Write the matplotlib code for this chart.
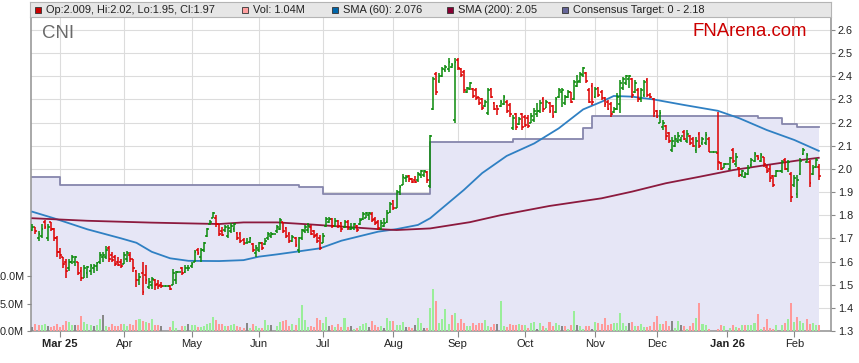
import numpy as np
import pandas as pd
import matplotlib
matplotlib.use("Agg")
import matplotlib.pyplot as plt
from matplotlib.patches import Rectangle

# trading calendar (weekdays) shown on the chart
dates = pd.bdate_range("2025-02-18", "2026-02-12")

opens = [
    1.735, 1.75, 1.70, 1.71, 1.77, 1.70, 1.77, 1.74, 1.70, 1.64,
    1.62, 1.60, 1.57, 1.60, 1.60, 1.60, 1.56, 1.53, 1.55, 1.56,
    1.57, 1.58, 1.60, 1.62, 1.62, 1.66, 1.63, 1.62, 1.60, 1.60,
    1.59, 1.61, 1.63, 1.61, 1.56, 1.52, 1.55, 1.54, 1.49, 1.50,
    1.52, 1.505, 1.50, 1.495, 1.495, 1.495, 1.50, 1.52, 1.555, 1.57,
    1.555, 1.57, 1.58, 1.60, 1.65, 1.62, 1.65, 1.71, 1.76, 1.79,
    1.79, 1.76, 1.73, 1.735, 1.71, 1.73, 1.74, 1.725, 1.72, 1.695,
    1.68, 1.685, 1.675, 1.635, 1.65, 1.68, 1.675, 1.70, 1.71, 1.72,
    1.73, 1.74, 1.77, 1.745, 1.72, 1.69, 1.70, 1.65, 1.70, 1.73,
    1.735, 1.75, 1.73, 1.715, 1.70, 1.68, 1.755, 1.77, 1.785, 1.755,
    1.775, 1.765, 1.75, 1.77, 1.74, 1.745, 1.755, 1.76, 1.785, 1.79,
    1.80, 1.805, 1.785, 1.77, 1.74, 1.755, 1.77, 1.815, 1.86, 1.83,
    1.90, 1.93, 1.96, 1.97, 1.955, 1.95, 1.95, 1.975, 1.975, 1.985,
    1.925, 2.258, 2.41, 2.38, 2.40, 2.425, 2.43, 2.44, 2.21, 2.47,
    2.43, 2.42, 2.33, 2.345, 2.345, 2.34, 2.31, 2.30, 2.27, 2.24,
    2.345, 2.285, 2.27, 2.27, 2.28, 2.29, 2.275, 2.175, 2.235, 2.195,
    2.235, 2.225, 2.22, 2.20, 2.21, 2.235, 2.25, 2.30, 2.265, 2.285,
    2.27, 2.245, 2.31, 2.33, 2.285, 2.31, 2.33, 2.30, 2.36, 2.38,
    2.405, 2.415, 2.34, 2.36, 2.31, 2.35, 2.33, 2.305, 2.29, 2.28,
    2.245, 2.26, 2.28, 2.35, 2.37, 2.39, 2.39, 2.33, 2.34, 2.30,
    2.32, 2.385, 2.32, 2.30, 2.25, 2.20, 2.18, 2.185, 2.155, 2.08,
    2.10, 2.12, 2.125, 2.16, 2.12, 2.14, 2.13, 2.08, 2.15, 2.11,
    2.11, 2.13, 2.075, 2.075, 2.07, 2.025, 2.005, 2.02, 2.00, 2.08,
    2.02, 2.005, 1.975, 1.965, 1.98, 2.015, 2.035, 2.055, 2.035, 2.05,
    2.01, 2.00, 1.97, 1.97, 1.99, 1.99, 2.04, 2.00, 1.98, 1.93,
    1.89, 1.98, 2.065, 2.03, 2.03, 1.98, 2.01, 2.009,
]
highs = [
    1.76, 1.75, 1.73, 1.76, 1.78, 1.76, 1.77, 1.745, 1.71, 1.66,
    1.62, 1.61, 1.61, 1.63, 1.625, 1.60, 1.576, 1.585, 1.58, 1.59,
    1.59, 1.60, 1.64, 1.64, 1.667, 1.667, 1.64, 1.63, 1.62, 1.61,
    1.64, 1.645, 1.64, 1.61, 1.563, 1.55, 1.60, 1.585, 1.53, 1.534,
    1.525, 1.52, 1.51, 1.495, 1.495, 1.50, 1.566, 1.56, 1.555, 1.577,
    1.585, 1.585, 1.60, 1.65, 1.66, 1.66, 1.686, 1.744, 1.78, 1.816,
    1.80, 1.76, 1.75, 1.758, 1.758, 1.765, 1.765, 1.729, 1.729, 1.70,
    1.70, 1.707, 1.678, 1.671, 1.686, 1.686, 1.70, 1.729, 1.729, 1.72,
    1.758, 1.786, 1.772, 1.75, 1.729, 1.714, 1.707, 1.707, 1.742, 1.758,
    1.765, 1.758, 1.736, 1.722, 1.714, 1.722, 1.794, 1.794, 1.79, 1.786,
    1.779, 1.772, 1.779, 1.779, 1.765, 1.765, 1.758, 1.786, 1.815, 1.815,
    1.815, 1.815, 1.794, 1.779, 1.779, 1.786, 1.822, 1.858, 1.866, 1.91,
    1.93, 1.978, 1.974, 1.975, 1.96, 1.97, 1.988, 1.995, 1.995, 1.99,
    2.147, 2.398, 2.42, 2.413, 2.442, 2.449, 2.478, 2.456, 2.478, 2.478,
    2.434, 2.427, 2.355, 2.377, 2.348, 2.348, 2.312, 2.305, 2.298, 2.348,
    2.348, 2.29, 2.276, 2.298, 2.319, 2.298, 2.283, 2.233, 2.24, 2.226,
    2.24, 2.233, 2.233, 2.24, 2.262, 2.283, 2.298, 2.312, 2.298, 2.29,
    2.276, 2.312, 2.348, 2.348, 2.319, 2.341, 2.334, 2.384, 2.406, 2.42,
    2.442, 2.42, 2.348, 2.37, 2.355, 2.355, 2.341, 2.312, 2.297, 2.29,
    2.269, 2.326, 2.384, 2.398, 2.406, 2.406, 2.391, 2.384, 2.348, 2.348,
    2.384, 2.391, 2.326, 2.305, 2.254, 2.254, 2.211, 2.19, 2.161, 2.139,
    2.146, 2.161, 2.139, 2.168, 2.168, 2.146, 2.139, 2.139, 2.161, 2.139,
    2.161, 2.139, 2.075, 2.075, 2.247, 2.031, 2.024, 2.02, 2.053, 2.089,
    2.067, 2.01, 1.995, 1.988, 2.017, 2.046, 2.074, 2.06, 2.067, 2.053,
    2.017, 2.017, 1.974, 1.995, 1.99, 2.038, 2.046, 2.038, 1.988, 1.974,
    1.974, 2.046, 2.089, 2.067, 2.038, 2.017, 2.046, 2.02,
]
lows = [
    1.73, 1.72, 1.69, 1.70, 1.74, 1.69, 1.73, 1.69, 1.62, 1.61,
    1.57, 1.53, 1.56, 1.59, 1.58, 1.54, 1.516, 1.527, 1.53, 1.54,
    1.55, 1.56, 1.59, 1.60, 1.61, 1.60, 1.60, 1.58, 1.58, 1.57,
    1.59, 1.60, 1.60, 1.556, 1.49, 1.50, 1.455, 1.505, 1.48, 1.48,
    1.477, 1.48, 1.485, 1.495, 1.495, 1.477, 1.50, 1.505, 1.555, 1.54,
    1.55, 1.56, 1.57, 1.60, 1.63, 1.60, 1.642, 1.708, 1.758, 1.787,
    1.75, 1.71, 1.71, 1.729, 1.70, 1.722, 1.729, 1.693, 1.678, 1.671,
    1.678, 1.678, 1.642, 1.621, 1.642, 1.65, 1.671, 1.693, 1.70, 1.72,
    1.722, 1.736, 1.722, 1.70, 1.678, 1.686, 1.664, 1.635, 1.693, 1.722,
    1.722, 1.714, 1.70, 1.678, 1.65, 1.678, 1.75, 1.765, 1.745, 1.75,
    1.743, 1.729, 1.743, 1.736, 1.736, 1.736, 1.729, 1.758, 1.779, 1.786,
    1.779, 1.772, 1.758, 1.736, 1.736, 1.75, 1.765, 1.808, 1.822, 1.83,
    1.887, 1.93, 1.945, 1.945, 1.938, 1.938, 1.945, 1.96, 1.966, 1.94,
    1.916, 2.254, 2.319, 2.37, 2.398, 2.42, 2.42, 2.434, 2.197, 2.427,
    2.398, 2.326, 2.326, 2.341, 2.305, 2.298, 2.276, 2.254, 2.269, 2.233,
    2.305, 2.254, 2.233, 2.269, 2.276, 2.24, 2.226, 2.168, 2.168, 2.19,
    2.168, 2.183, 2.175, 2.197, 2.204, 2.226, 2.24, 2.247, 2.262, 2.24,
    2.219, 2.24, 2.305, 2.269, 2.276, 2.305, 2.283, 2.298, 2.355, 2.37,
    2.398, 2.37, 2.283, 2.276, 2.305, 2.312, 2.297, 2.269, 2.254, 2.226,
    2.24, 2.254, 2.24, 2.341, 2.362, 2.35, 2.305, 2.326, 2.29, 2.29,
    2.312, 2.312, 2.305, 2.226, 2.218, 2.197, 2.168, 2.125, 2.11, 2.074,
    2.096, 2.11, 2.118, 2.125, 2.11, 2.103, 2.096, 2.067, 2.089, 2.103,
    2.103, 2.074, 2.075, 2.075, 1.995, 1.995, 2.002, 2.02, 1.995, 2.024,
    2.01, 1.966, 1.966, 1.959, 1.974, 2.01, 2.031, 2.038, 2.031, 2.01,
    1.981, 1.945, 1.923, 1.966, 1.99, 1.981, 1.995, 1.988, 1.858, 1.923,
    1.873, 1.974, 2.06, 2.024, 1.923, 1.974, 2.002, 1.95,
]
closes = [
    1.75, 1.73, 1.72, 1.74, 1.75, 1.75, 1.74, 1.70, 1.64, 1.63,
    1.59, 1.56, 1.60, 1.62, 1.62, 1.55, 1.53, 1.57, 1.575, 1.58,
    1.58, 1.595, 1.63, 1.63, 1.65, 1.61, 1.605, 1.59, 1.585, 1.58,
    1.63, 1.635, 1.61, 1.57, 1.52, 1.535, 1.47, 1.52, 1.51, 1.525,
    1.50, 1.495, 1.495, 1.495, 1.495, 1.48, 1.55, 1.555, 1.555, 1.55,
    1.57, 1.57, 1.59, 1.64, 1.635, 1.65, 1.68, 1.74, 1.77, 1.81,
    1.76, 1.72, 1.715, 1.75, 1.745, 1.755, 1.76, 1.70, 1.69, 1.68,
    1.68, 1.70, 1.65, 1.66, 1.68, 1.66, 1.69, 1.72, 1.72, 1.72,
    1.75, 1.78, 1.73, 1.71, 1.69, 1.705, 1.67, 1.70, 1.735, 1.75,
    1.755, 1.72, 1.71, 1.69, 1.66, 1.71, 1.785, 1.785, 1.755, 1.775,
    1.755, 1.74, 1.77, 1.745, 1.745, 1.76, 1.735, 1.78, 1.805, 1.81,
    1.81, 1.78, 1.765, 1.745, 1.765, 1.765, 1.81, 1.85, 1.83, 1.90,
    1.92, 1.965, 1.965, 1.955, 1.945, 1.945, 1.98, 1.99, 1.99, 1.95,
    2.14, 2.39, 2.33, 2.40, 2.43, 2.44, 2.46, 2.45, 2.46, 2.435,
    2.405, 2.34, 2.35, 2.37, 2.315, 2.305, 2.285, 2.265, 2.29, 2.34,
    2.31, 2.26, 2.26, 2.29, 2.31, 2.25, 2.235, 2.22, 2.18, 2.215,
    2.18, 2.19, 2.185, 2.23, 2.25, 2.25, 2.285, 2.26, 2.29, 2.25,
    2.23, 2.30, 2.34, 2.34, 2.31, 2.33, 2.29, 2.375, 2.375, 2.41,
    2.435, 2.38, 2.29, 2.29, 2.345, 2.32, 2.305, 2.28, 2.26, 2.235,
    2.26, 2.31, 2.37, 2.39, 2.40, 2.40, 2.32, 2.37, 2.30, 2.34,
    2.375, 2.32, 2.31, 2.24, 2.225, 2.24, 2.20, 2.14, 2.12, 2.12,
    2.13, 2.14, 2.14, 2.13, 2.15, 2.11, 2.10, 2.12, 2.10, 2.13,
    2.145, 2.075, 2.075, 2.075, 2.03, 2.00, 2.02, 2.02, 2.045, 2.035,
    2.05, 1.975, 1.99, 1.98, 2.005, 2.04, 2.065, 2.045, 2.06, 2.02,
    1.99, 1.96, 1.93, 1.99, 1.99, 2.03, 2.00, 2.03, 1.88, 1.96,
    1.95, 2.035, 2.08, 2.06, 1.94, 2.005, 2.04, 1.97,
]
# volume in millions of shares
volume_m = [
    0.73, 1.2, 1.1, 1.1, 1.2, 0.9, 0.73, 0.9, 1.33, 0.73,
    1.1, 1.8, 1.64, 1.1, 1.1, 1.1, 2.7, 1.64, 1.2, 1.1,
    0.9, 1.1, 2.1, 2.85, 0.9, 0.73, 1.33, 0.9, 0.9, 1.33,
    1.2, 0.9, 1.33, 1.1, 1.94, 2.1, 1.8, 1.64, 1.5, 2.1,
    1.1, 1.1, 0.85, 0, 0, 0.73, 1.8, 0.6, 0, 0.9,
    0.9, 1.2, 1.1, 1.1, 0.73, 0.73, 0.9, 1.2, 1.5, 2.5,
    1.94, 1.2, 1.2, 0.9, 0.85, 1.03, 1.33, 0.85, 0.73, 0.48,
    1.4, 0.6, 1.2, 0.85, 0.48, 0.48, 1.94, 1.03, 1.03, 0,
    0.85, 1.64, 1.82, 1.94, 0.9, 1.2, 1.03, 2.3, 4.67, 1.94,
    0.73, 0.85, 0.73, 2.3, 1.94, 1.5, 2.55, 0.9, 1.03, 0.73,
    1.2, 0.73, 2.3, 0.73, 0.85, 0.3, 0.48, 0.85, 1.2, 1.4,
    0.73, 1.82, 1.03, 0.73, 0.85, 0.48, 2.36, 1.76, 1.76, 1.03,
    1.03, 1.64, 0.73, 0.73, 0.48, 1.03, 2.3, 1.4, 0.48, 0.6,
    4.12, 7.58, 5.45, 1.52, 2.24, 3.94, 1.21, 2.85, 3.33, 1.52,
    2.12, 1.52, 0.91, 0.91, 1.52, 1.03, 1.39, 1.39, 1.94, 0.91,
    0.79, 1.21, 1.33, 5.45, 0.91, 0.73, 1.21, 1.03, 1.15, 1.21,
    1.03, 1.03, 0.6, 1.52, 1.64, 0.42, 1.52, 0.91, 0.6, 1.64,
    0.91, 1.52, 1.09, 0.91, 0.91, 0.42, 1.03, 3.58, 1.03, 0.91,
    0.42, 0.91, 0.91, 0.42, 1.64, 1.39, 1.33, 2.3, 1.03, 1.33,
    1.52, 1.52, 3.33, 1.52, 0.85, 1.52, 1.64, 0.91, 0.91, 1.33,
    0.73, 0.79, 0.91, 1.64, 2.73, 1.33, 1.21, 1.82, 0.97, 1.82,
    0.6, 1.82, 1.03, 0.91, 0.42, 0.91, 1.39, 2.42, 5.15, 1.21,
    1.03, 0.3, 0, 0, 0.42, 1.03, 0.91, 0, 0.55, 1.03,
    0.73, 0.6, 1.03, 1.03, 1.03, 1.03, 1.52, 3.03, 0.42, 0.79,
    2.24, 0.6, 0.42, 1.03, 0, 1.03, 1.52, 2.24, 5.15, 1.64,
    2.6, 1.82, 1.52, 2.12, 1.33, 1.52, 1.03, 1.04,
]

# moving averages (bar number, value)
sma60_bar = [0, 7, 18, 29, 34, 39, 45, 51, 61, 69, 74, 80, 86, 94, 101, 113,
             119, 126, 130, 141, 147, 155, 164, 172, 180, 186, 190, 196, 203,
             213, 224, 231, 240, 249, 257]
sma60 = [1.815, 1.787, 1.739, 1.70, 1.681, 1.642, 1.614, 1.603, 1.602, 1.606,
         1.621, 1.631, 1.642, 1.657, 1.69, 1.729, 1.74, 1.758, 1.787, 1.909,
         1.982, 2.056, 2.11, 2.175, 2.257, 2.29, 2.315, 2.312, 2.30, 2.276,
         2.251, 2.219, 2.168, 2.125, 2.078]
sma200_bar = [0, 18, 39, 61, 69, 80, 91, 102, 113, 119, 130, 143, 153, 169,
              186, 196, 207, 218, 229, 240, 251, 257]
sma200 = [1.787, 1.776, 1.768, 1.762, 1.769, 1.769, 1.76, 1.75, 1.74, 1.736,
          1.743, 1.77, 1.80, 1.84, 1.873, 1.902, 1.938, 1.966, 1.995, 2.017,
          2.038, 2.048]

# consensus target changes (bar number where it starts, value)
target_bar = [0, 9, 87, 95, 130, 157, 180, 183, 237, 245, 250]
target = [1.965, 1.93, 1.92, 1.89, 2.117, 2.127, 2.178, 2.23, 2.218, 2.193, 2.18]

plt.rcParams['font.family'] = ['Liberation Sans', 'DejaVu Sans']

n = len(dates)
x = np.arange(n)
o = np.array(opens)
h = np.array(highs)
l = np.array(lows)
c = np.array(closes)
vol = np.array(volume_m) * 1e6

bar_cols = np.where(c >= o, '#0a8a0a', '#dd0000')
prev = np.r_[c[0], c[:-1]]
vol_cols = np.where(c > prev, '#99ee99', np.where(c < prev, '#ff9999', '#888888'))

W, H = 859, 363
fig = plt.figure(figsize=(W / 100, H / 100), dpi=100)
ax = fig.add_axes([31 / W, (H - 331) / H, 800 / W, 314 / H])
xl = (-0.46, 261.0)
ax.set_xlim(*xl)
ax.set_ylim(1.3, 2.656)

# consensus target area
tx = [xl[0]] + target_bar[1:] + [n - 1]
ty = target + [target[-1]]
ax.fill_between(tx, 1.3, ty, step='post', color='#e6e6f6', lw=0, zorder=1)
ax.step(tx, ty, where='post', color='#8686ac', lw=1.3, zorder=2)

ax.plot(sma60_bar, sma60, color='#2f80c3', lw=1.3, zorder=3)
ax.plot(sma200_bar, sma200, color='#8c1a3e', lw=1.3, zorder=3)

# OHLC bars
ax.vlines(x, l, h, colors=bar_cols, lw=1.1, zorder=4)
ax.hlines(o, x - 0.6, x, colors=bar_cols, lw=1.1, zorder=4)
ax.hlines(c, x, x + 0.6, colors=bar_cols, lw=1.1, zorder=4)

# month ticks
ms = pd.Series(dates.month)
starts = list(np.where(ms.ne(ms.shift()).values)[0][1:])
ax.set_xticks(starts)
labels = []
for k, s in enumerate(starts):
    d = dates[s]
    labels.append(d.strftime('%b %y') if (k == 0 or d.month == 1) else d.strftime('%b'))
ax.set_xticklabels(labels)
for k, t in enumerate(ax.get_xticklabels()):
    if k == 0 or dates[starts[k]].month == 1:
        t.set_fontweight('bold')

ax.grid(True, color='#dcdcdc', lw=0.8)
ax.set_axisbelow(True)
for side in ['left', 'right', 'bottom']:
    ax.spines[side].set_color('#999999')
    ax.spines[side].set_linewidth(1.2)
ax.spines['top'].set_visible(False)

# volume on its own scale
axv = ax.twinx()
axv.bar(x, vol, width=0.66, color=vol_cols, lw=0, zorder=2)
axv.set_ylim(0, 314 / 5.5 * 1e6)
for s in axv.spines.values():
    s.set_visible(False)

# price on the right, volume on the left
ax.yaxis.set_ticks_position('right')
ax.yaxis.set_label_position('right')
ax.set_yticks(np.round(np.arange(1.3, 2.61, 0.1), 1))
ax.set_yticklabels([f'{v:.1f}' for v in np.arange(1.3, 2.61, 0.1)])
axv.yaxis.set_ticks_position('left')
axv.yaxis.set_label_position('left')
axv.set_yticks([0, 5e6, 10e6])
axv.set_yticklabels(['0.0M', '5.0M', '10.0M'])

ax.tick_params(axis='x', labelsize=8, length=4, color='#888888', labelcolor='#222222', pad=2)
ax.tick_params(axis='y', labelsize=7.8, length=3, color='#888888', labelcolor='#222222', pad=2)
axv.tick_params(axis='y', labelsize=7.8, length=3, color='#888888', labelcolor='#222222', pad=2)

# header legend
hax = fig.add_axes([30 / W, (H - 17) / H, 801 / W, 15 / H])
hax.set_facecolor('#e6e6e6')
hax.set_xlim(30, 831)
hax.set_ylim(15, 0)
hax.set_xticks([])
hax.set_yticks([])
for s in hax.spines.values():
    s.set_color('#b4b4b4')
items = [
    (35, '#cc0000', 'Op:2.009, Hi:2.02, Lo:1.95, Cl:1.97'),
    (242, '#ffa0a0', 'Vol: 1.04M'),
    (332, '#0066aa', 'SMA (60): 2.076'),
    (447, '#880033', 'SMA (200): 2.05'),
    (562, '#666699', 'Consensus Target: 0 - 2.18'),
]
for px, col, txt in items:
    hax.add_patch(Rectangle((px, 4.5), 6, 6, facecolor=col, edgecolor='#333333', lw=0.6))
    hax.text(px + 11, 7.8, txt, fontsize=7.9, color='#222222', va='center', ha='left')

fig.text(42 / W, 1 - 33 / H, 'CNI', fontsize=13.4, color='#6a6a6a', va='center', ha='left')
fig.text(693 / W, 1 - 32 / H, 'FNArena.com', fontsize=13.4, color='#cc0000', va='center', ha='left')

fig.savefig('out.png', dpi=100)
